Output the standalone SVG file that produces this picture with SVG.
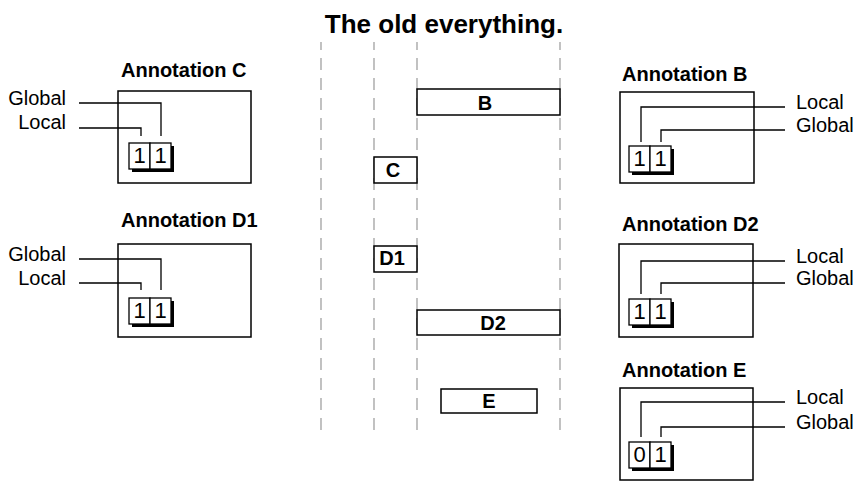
<svg xmlns="http://www.w3.org/2000/svg" width="860" height="481" viewBox="0 0 860 481">
<style>
text{font-family:"Liberation Sans",Arial,sans-serif;fill:#000}
.title{font-size:26px;font-weight:bold}
.ann{font-size:20px;font-weight:bold}
.lbl{font-size:20px}
.cell{font-size:22px}
.bar{font-size:20px;font-weight:bold}
.frame{fill:#fff;stroke:#000;stroke-width:1.5}
.c{fill:#fff;stroke:#000;stroke-width:1.3}
.sh{fill:#000}
.guide{stroke:#999;stroke-width:1.2;stroke-dasharray:12 8;stroke-dashoffset:4;fill:none}
.lead{stroke:#000;stroke-width:1.3;fill:none}
</style>
<rect width="860" height="481" fill="#fff"/>
<text class="title" x="444" y="33" text-anchor="middle">The old everything.</text>
<g id="guides">
<line class="guide" x1="321" y1="42" x2="321" y2="430"/>
<line class="guide" x1="374" y1="42" x2="374" y2="430"/>
<line class="guide" x1="417" y1="42" x2="417" y2="430"/>
<line class="guide" x1="560" y1="42" x2="560" y2="430"/>
</g>
<g id="bar-B"><rect class="frame" x="417" y="89" width="143" height="26"/><text class="bar" x="485" y="110" text-anchor="middle">B</text></g>
<g id="bar-C"><rect class="frame" x="374" y="157" width="43" height="26"/><text class="bar" x="393" y="177" text-anchor="middle">C</text></g>
<g id="bar-D1"><rect class="frame" x="374" y="246" width="43" height="26"/><text class="bar" x="392" y="265" text-anchor="middle">D1</text></g>
<g id="bar-D2"><rect class="frame" x="417" y="310" width="143" height="25"/><text class="bar" x="493" y="330" text-anchor="middle">D2</text></g>
<g id="bar-E"><rect class="frame" x="441" y="389" width="96" height="24"/><text class="bar" x="489" y="408" text-anchor="middle">E</text></g>

<g id="annotation-C">
<text class="ann" x="121" y="77">Annotation C</text>
<rect class="frame" x="118" y="91" width="133" height="92"/>
<rect class="sh" x="132" y="146" width="42" height="26"/>
<rect class="c" x="129" y="143" width="21" height="26"/><rect class="c" x="150" y="143" width="21" height="26"/>
<text class="cell" x="139.5" y="163" text-anchor="middle">1</text><text class="cell" x="160.5" y="163" text-anchor="middle">1</text>
<text class="lbl" x="66" y="105" text-anchor="end">Global</text>
<text class="lbl" x="66" y="129" text-anchor="end">Local</text>
</g>
<g id="annotation-D1">
<text class="ann" x="121" y="227">Annotation D1</text>
<rect class="frame" x="118" y="244" width="133" height="93"/>
<rect class="sh" x="132" y="301" width="42" height="26"/>
<rect class="c" x="129" y="298" width="21" height="26"/><rect class="c" x="150" y="298" width="21" height="26"/>
<text class="cell" x="139.5" y="318" text-anchor="middle">1</text><text class="cell" x="160.5" y="318" text-anchor="middle">1</text>
<text class="lbl" x="66" y="261" text-anchor="end">Global</text>
<text class="lbl" x="66" y="285" text-anchor="end">Local</text>
</g>
<g id="annotation-B">
<text class="ann" x="622" y="81">Annotation B</text>
<rect class="frame" x="620" y="92" width="134" height="91"/>
<rect class="sh" x="632" y="149" width="42" height="26"/>
<rect class="c" x="629" y="146" width="21" height="26"/><rect class="c" x="650" y="146" width="21" height="26"/>
<text class="cell" x="639.5" y="166" text-anchor="middle">1</text><text class="cell" x="660.5" y="166" text-anchor="middle">1</text>
<text class="lbl" x="796" y="109">Local</text>
<text class="lbl" x="796" y="132">Global</text>
</g>
<g id="annotation-D2">
<text class="ann" x="622" y="231">Annotation D2</text>
<rect class="frame" x="619" y="244" width="134" height="93"/>
<rect class="sh" x="632" y="302" width="42" height="26"/>
<rect class="c" x="629" y="299" width="21" height="26"/><rect class="c" x="650" y="299" width="21" height="26"/>
<text class="cell" x="639.5" y="319" text-anchor="middle">1</text><text class="cell" x="660.5" y="319" text-anchor="middle">1</text>
<text class="lbl" x="796" y="263">Local</text>
<text class="lbl" x="796" y="285">Global</text>
</g>
<g id="annotation-E">
<text class="ann" x="622" y="377">Annotation E</text>
<rect class="frame" x="620" y="388" width="133" height="92"/>
<rect class="sh" x="632" y="445" width="42" height="26"/>
<rect class="c" x="629" y="442" width="21" height="26"/><rect class="c" x="650" y="442" width="21" height="26"/>
<text class="cell" x="639.5" y="462" text-anchor="middle">0</text><text class="cell" x="660.5" y="462" text-anchor="middle">1</text>
<text class="lbl" x="796" y="404">Local</text>
<text class="lbl" x="796" y="429">Global</text>
</g>
<g id="connectors">
<polyline class="lead" points="79,103 161,103 161,136"/>
<polyline class="lead" points="79,128 141,128 141,136"/>
<polyline class="lead" points="79,259 161,259 161,290"/>
<polyline class="lead" points="79,283 141,283 141,290"/>
<polyline class="lead" points="785,107 641,107 641,142"/>
<polyline class="lead" points="785,130 661,130 661,142"/>
<polyline class="lead" points="785,261 641,261 641,294"/>
<polyline class="lead" points="785,283 661,283 661,294"/>
<polyline class="lead" points="785,402 641,402 641,437"/>
<polyline class="lead" points="785,427 661,427 661,437"/>
</g>
</svg>
